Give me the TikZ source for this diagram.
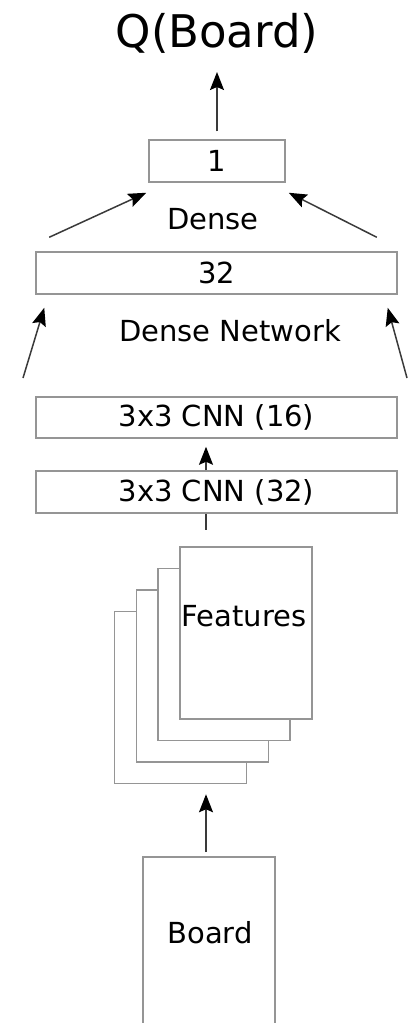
\documentclass[tikz,border=0pt]{standalone}
\usepackage{fontspec}
\setmainfont{DejaVu Sans}
\definecolor{boxgray}{HTML}{959595}
\definecolor{arrgray}{HTML}{3A3A3A}
\usetikzlibrary{arrows.meta, positioning}

\begin{document}
\begin{tikzpicture}[x=1pt, y=-1pt,
   box/.style={draw=boxgray, line width=1.5pt, fill=white, inner sep=0pt,
      font=\fontsize{29}{32}\selectfont},
   layer/.style={box, minimum width=361, minimum height=42},
   sheet/.style={box, minimum width=132, minimum height=172},
   lbl/.style={inner sep=0pt, font=\fontsize{29}{32}\selectfont},
   arr/.style={draw=arrgray, line width=1.5pt,
      -{Stealth[length=18pt, width=14pt, inset=3pt, color=black]}}]
   \clip (0,0) rectangle (413,1023);
   % Output
   \node[inner sep=0pt, font=\fontsize{45}{48}\selectfont] (qval) at (217,33) {Q(Board)};
   \node[box, minimum width=136, minimum height=42] (one) at (217,161) {1};
   \node[lbl] (dense) at (213,219) {Dense};
   \node[layer] (d32) at (216.5,273) {32};
   \node[lbl] (densenet) at (230,331) {Dense Network};
   % Convolutions
   \node[layer, minimum height=41] (cnn16) at (216.5,417.5) {3x3 CNN (16)};
   \node[layer] (cnn32) at (216.5,492) {3x3 CNN (32)};
   % Feature planes, back to front
   \foreach \i in {3,2,1,0}
      \node[sheet] (feat\i) at (246-21.8*\i,633+21.5*\i) {};
   \node[lbl] (feattxt) at (244,616) {Features};
   % Input
   \node[box, minimum width=132, minimum height=200, anchor=north] (board) at (209,856) {};
   \node[lbl] (boardtxt) at (210,933) {Board};
   % Arrows
   \coordinate (spine) at (206,0);
   \coordinate (stub) at (206,530);
   \coordinate (qtip) at (217,72);
   \coordinate (dnl) at (23,378);
   \coordinate (dnr) at (407,378);
   \draw[arr] ([yshift=4pt]board.north -| spine) -- ([yshift=-10pt]feat3.south -| spine);
   \draw[draw=arrgray, line width=1.5pt] (cnn32.south -| spine) -- (stub);
   \draw[arr] (cnn32.north -| spine) -- ([yshift=-8pt]cnn16.south -| spine);
   \draw[arr] (dnl) -- ([xshift=9pt, yshift=-13pt]d32.south west);
   \draw[arr] (dnr) -- ([xshift=-10pt, yshift=-13pt]d32.south east);
   \draw[arr] ([xshift=14pt, yshift=14pt]d32.north west) -- ([xshift=-2pt, yshift=-10pt]one.south west);
   \draw[arr] ([xshift=-21pt, yshift=14pt]d32.north east) -- ([xshift=3pt, yshift=-10pt]one.south east);
   \draw[arr] ([yshift=8pt]one.north) -- (qtip);
\end{tikzpicture}
\end{document}
